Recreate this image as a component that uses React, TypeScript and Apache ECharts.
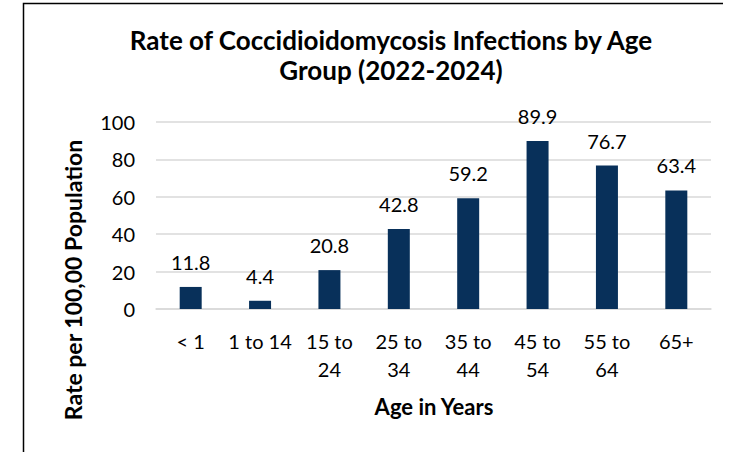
import React, { useEffect, useRef } from "react";
import * as echarts from "echarts";

const categories = ["< 1", "1 to 14", "15 to 24", "25 to 34", "35 to 44", "45 to 54", "55 to 64", "65+"];
const rates = [11.8, 4.4, 20.8, 42.8, 59.2, 89.9, 76.7, 63.4];
const titleText = "Rate of Coccidioidomycosis Infections by Age\nGroup (2022-2024)";
const xAxisTitle = "Age in Years";
const yAxisTitle = "Rate per 100,00 Population";

const FONT = "Lato, 'Open Sans', sans-serif";

export default function App() {
  const ref = useRef<HTMLDivElement>(null);
  useEffect(() => {
    document.body.style.margin = "0";
    const chart = echarts.init(ref.current!, null, { renderer: "svg" });
    chart.setOption({
      animation: false,
      backgroundColor: "#ffffff",
      textStyle: { fontFamily: FONT },
      title: {
        text: titleText,
        left: 386,
        top: 20,
        textAlign: "center",
        textStyle: { fontFamily: FONT, fontSize: 26, fontWeight: "bold", color: "#000", lineHeight: 30 },
      },
      graphic: [
        {
          type: "polyline",
          shape: { points: [[23.5, 460], [23.5, 3.5], [723, 3.5]] },
          style: { stroke: "#000", lineWidth: 1.5, fill: "none" },
        },
        {
          type: "text",
          x: 434,
          y: 406,
          style: { text: xAxisTitle, fontFamily: FONT, fontSize: 22, fontWeight: "bold", fill: "#000", textAlign: "center", textVerticalAlign: "middle" },
        },
        {
          type: "text",
          x: 73,
          y: 280,
          rotation: Math.PI / 2,
          style: { text: yAxisTitle, fontFamily: FONT, fontSize: 23, fontWeight: "bold", fill: "#000", textAlign: "center", textVerticalAlign: "middle" },
        },
      ],
      grid: { left: 156, right: 24, top: 122, bottom: 143, containLabel: false },
      xAxis: {
        type: "category",
        data: categories,
        axisLine: { lineStyle: { color: "#d9d9d9", width: 1.5 } },
        axisTick: { show: false },
        axisLabel: {
          interval: 0,
          margin: 18,
          fontFamily: FONT,
          fontSize: 20,
          color: "#000",
          lineHeight: 28,
          formatter: (v: string) => v.replace(/^(\d\d) to /, "$1 to\n"),
        },
      },
      yAxis: {
        type: "value",
        min: 0,
        max: 100,
        interval: 20,
        axisLine: { show: false },
        axisTick: { show: false },
        splitLine: { lineStyle: { color: "#d9d9d9", width: 1.5 } },
        axisLabel: { margin: 21, fontFamily: FONT, fontSize: 20, color: "#000" },
      },
      series: [
        {
          type: "bar",
          data: rates,
          barWidth: 22,
          itemStyle: { color: "#08305a" },
          label: {
            show: true,
            position: "top",
            distance: 15,
            fontFamily: FONT,
            fontSize: 20,
            color: "#000",
            formatter: (p: any) => p.value.toFixed(1),
          },
        },
      ],
    });
    return () => chart.dispose();
  }, []);
  return <div ref={ref} style={{ width: 735, height: 452 }} />;
}
